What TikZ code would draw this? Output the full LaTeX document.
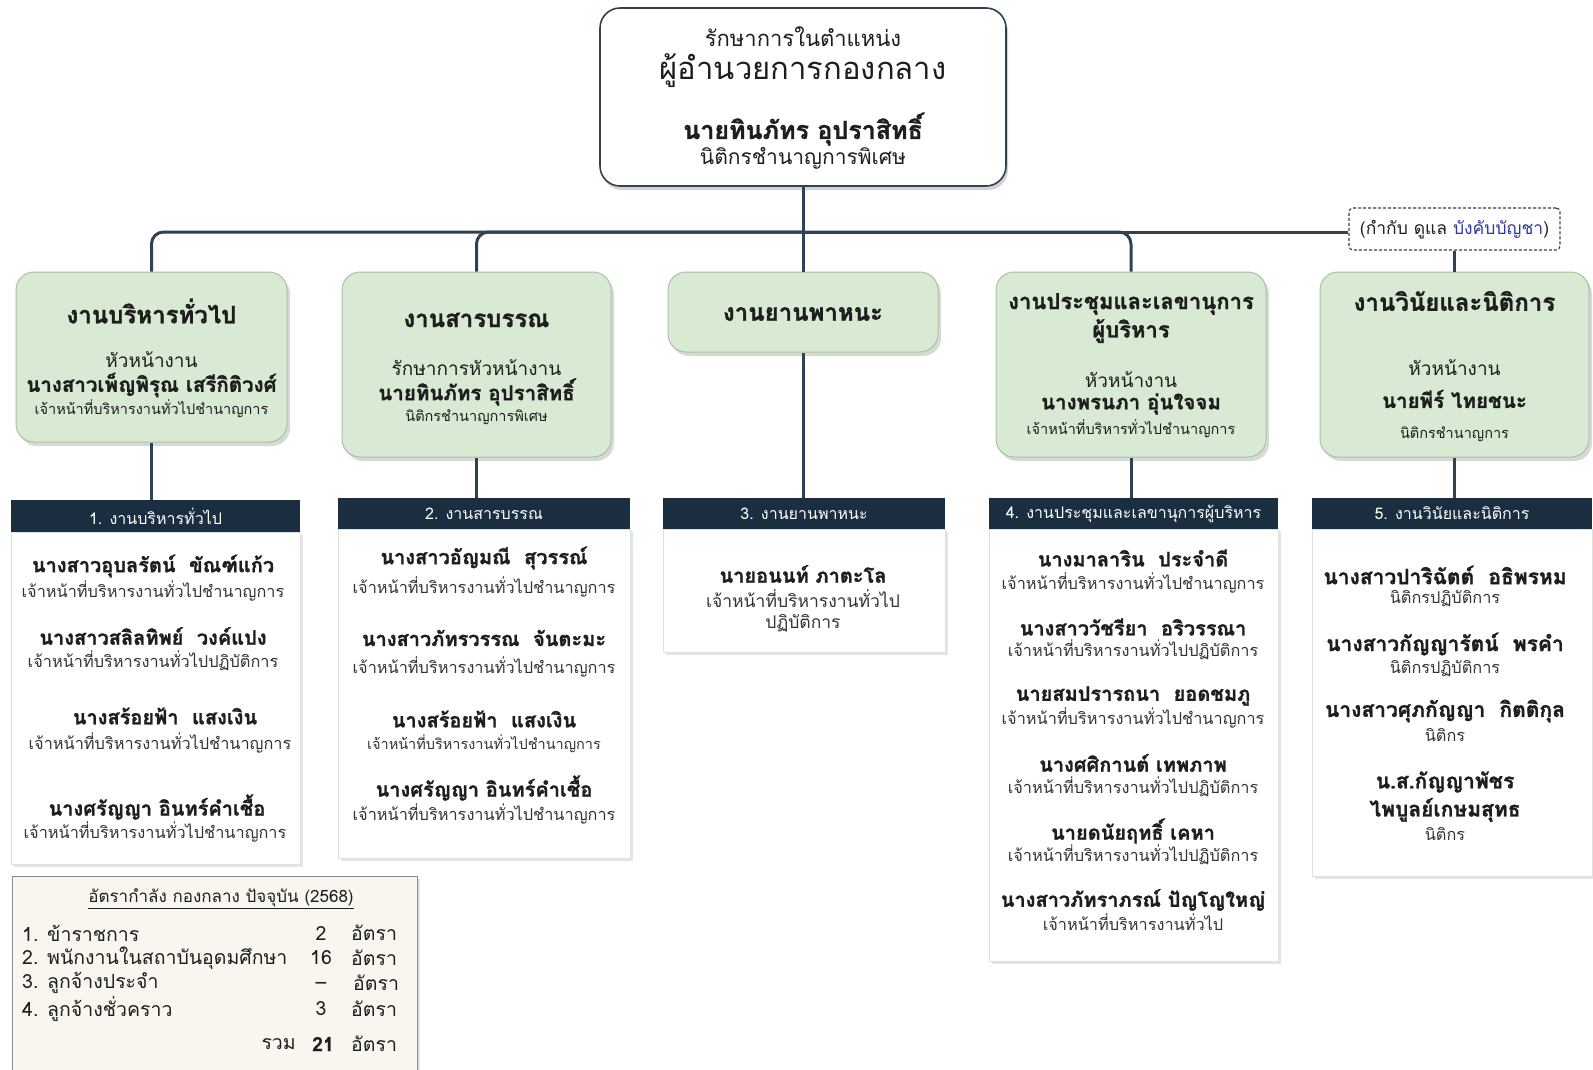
\documentclass[tikz,border=0pt]{standalone}
\usepackage{fontspec}
\setmainfont[Script=Thai, BoldFeatures={FakeBold=1.2}]{Loma}
\usetikzlibrary{shadows}
\definecolor{connc}{HTML}{2E4254}
\definecolor{gfill}{HTML}{D8EAD3}
\definecolor{gdraw}{HTML}{A9C2A4}
\definecolor{hdrc}{HTML}{1B2E40}
\definecolor{tablef}{HTML}{F8F6EE}
\definecolor{blu}{HTML}{2B3A9C}
\definecolor{txt}{HTML}{1E1E1E}
\definecolor{txtg}{HTML}{333333}
\newcommand\fz[1]{\fontsize{#1}{#1}\selectfont}
\newcommand\tline[4]{\node[#1] (#2) at (#3) {#4};}
\tikzset{
  x=1pt, y=-1pt,
  conn/.style={draw=connc, line width=3pt},
  topbox/.style={draw=connc, line width=1.6pt, fill=white, rounded corners=20pt,
     drop shadow={opacity=0.35, shadow xshift=2pt, shadow yshift=-4pt}},
  gbox/.style={draw=gdraw, line width=1pt, fill=gfill, rounded corners=18pt,
     drop shadow={opacity=0.3, shadow xshift=3pt, shadow yshift=-4pt}},
  hdr/.style={fill=hdrc, draw=none, inner sep=0pt},
  body/.style={fill=white, draw=black!12, line width=0.6pt,
     drop shadow={opacity=0.2, shadow xshift=3pt, shadow yshift=-3pt}},
  lbl/.style={draw=black!75, dash pattern=on 3pt off 2pt, line width=1.2pt, fill=white, rounded corners=4pt},
  tbox/.style={fill=tablef, draw=black!45, line width=1pt,
     drop shadow={opacity=0.25, shadow xshift=3pt, shadow yshift=-3pt}},
  tx/.style={inner sep=0pt, text=txt},
  top1/.style={tx, font=\fz{22}},
  top2/.style={tx, font=\fz{31}},
  top3/.style={tx, font=\fz{25}\bfseries},
  top4/.style={tx, font=\fz{21}},
  gtitle/.style={tx, font=\fz{24}\bfseries},
  ghead/.style={tx, font=\fz{19}},
  gname/.style={tx, font=\fz{20.5}\bfseries},
  gpos/.style={tx, font=\fz{14.5}},
  hdrt/.style={inner sep=0pt, text=white, font=\fz{16}},
  lname/.style={tx, font=\fz{20}\bfseries},
  lpos/.style={tx, text=txtg, font=\fz{16.3}},
  tab/.style={tx, font=\fz{19.5}},
}
\begin{document}
\begin{tikzpicture}
\useasboundingbox[fill=white] (0,0) rectangle (1593,1069);

% ---------- boxes ----------
\node[topbox, minimum width=406pt, minimum height=178pt] (top) at (803,97) {};
\node[gbox, minimum width=271pt, minimum height=170pt] (g1) at (151.5,357) {};
\node[gbox, minimum width=269pt, minimum height=185pt] (g2) at (476.5,364.5) {};
\node[gbox, minimum width=270pt, minimum height=80pt] (g3) at (803,312) {};
\node[gbox, minimum width=270pt, minimum height=185pt] (g4) at (1131,364.5) {};
\node[gbox, minimum width=269pt, minimum height=185pt] (g5) at (1454.5,364.5) {};
\node[lbl, minimum width=211pt, minimum height=42pt] (lb) at (1454.5,229) {};
\coordinate (bus) at (803,232);

% list bodies and headers
\node[body, minimum width=289pt, minimum height=332pt] (b1) at (155.5,698) {};
\node[hdr, minimum width=289pt, minimum height=32pt] (h1) at (155.5,516) {};
\node[body, minimum width=292pt, minimum height=329pt] (b2) at (484,693.5) {};
\node[hdr, minimum width=292pt, minimum height=31pt] (h2) at (484,513.5) {};
\node[body, minimum width=282pt, minimum height=123pt] (b3) at (804,590.5) {};
\node[hdr, minimum width=282pt, minimum height=31pt] (h3) at (804,513.5) {};
\node[body, minimum width=289pt, minimum height=432pt] (b4) at (1133.5,745) {};
\node[hdr, minimum width=289pt, minimum height=31pt] (h4) at (1133.5,513.5) {};
\node[body, minimum width=280pt, minimum height=347pt] (b5) at (1452,702.5) {};
\node[hdr, minimum width=280pt, minimum height=31pt] (h5) at (1452,513.5) {};

% table
\node[tbox, minimum width=405pt, minimum height=205pt] (tb) at (214.5,978.5) {};

% ---------- connectors ----------
\draw[conn] (top.south) -- (g3.north);
\draw[conn, rounded corners=12pt] (g1.north) |- (bus);
\draw[conn, rounded corners=12pt] (g2.north) |- (bus);
\draw[conn, rounded corners=12pt] (g4.north) |- (bus);
\draw[conn] (bus) -- (bus -| lb.west);
\draw[conn] (lb.south) -- (g5.north);
\draw[conn] (g1.south) -- (g1.south |- h1.north);
\draw[conn] (g2.south) -- (g2.south |- h2.north);
\draw[conn] (g3.south) -- (g3.south |- h3.north);
\draw[conn] (g4.south) -- (g4.south |- h4.north);
\draw[conn] (g5.south) -- (g5.south |- h5.north);

% ---------- top box text ----------
\tline{top1}{ta}{803,37}{รักษาการในตำแหน่ง}
\tline{top2}{tb2}{803,71}{ผู้อำนวยการกองกลาง}
\tline{top3}{tc}{803,129}{นายทินภัทร อุปราสิทธิ์}
\tline{top4}{td}{803,158}{นิติกรชำนาญการพิเศษ}

% ---------- green box text ----------
\tline{gtitle}{g1a}{151.5,311}{งานบริหารทั่วไป}
\tline{ghead}{g1b}{151.5,360}{หัวหน้างาน}
\tline{gname}{g1c}{151.5,385}{นางสาวเพ็ญพิรุณ เสรีกิติวงศ์}
\tline{gpos}{g1d}{151.5,409}{เจ้าหน้าที่บริหารงานทั่วไปชำนาญการ}

\tline{gtitle}{g2a}{476.5,320}{งานสารบรรณ}
\tline{ghead}{g2b}{476.5,368}{รักษาการหัวหน้างาน}
\tline{gname}{g2c}{476.5,392}{นายทินภัทร อุปราสิทธิ์}
\tline{gpos}{g2d}{476.5,417}{นิติกรชำนาญการพิเศษ}

\tline{gtitle}{g3a}{803,314}{งานยานพาหนะ}

\tline{gtitle, font=\fz{22}\bfseries}{g4a}{1131,304}{งานประชุมและเลขานุการ}
\tline{gtitle, font=\fz{22}\bfseries}{g4b}{1131,331}{ผู้บริหาร}
\tline{ghead}{g4c}{1131,380}{หัวหน้างาน}
\tline{gname}{g4d}{1131,404}{นางพรนภา อุ่นใจจม}
\tline{gpos}{g4e}{1131,429}{เจ้าหน้าที่บริหารทั่วไปชำนาญการ}

\tline{gtitle}{g5a}{1454.5,301}{งานวินัยและนิติการ}
\tline{ghead}{g5b}{1454.5,368}{หัวหน้างาน}
\tline{gname}{g5c}{1454.5,399}{นายพีร์ ไทยชนะ}
\tline{gpos}{g5d}{1454.5,434}{นิติกรชำนาญการ}

\tline{tx, font=\fz{17.5}}{lbt}{1454.5,230}{(กำกับ ดูแล \textcolor{blu}{บังคับบัญชา})}

% ---------- headers ----------
\tline{hdrt}{h1t}{155.5,516}{1. งานบริหารทั่วไป}
\tline{hdrt}{h2t}{484,513.5}{2. งานสารบรรณ}
\tline{hdrt}{h3t}{804,513.5}{3. งานยานพาหนะ}
\tline{hdrt}{h4t}{1133.5,513.5}{4. งานประชุมและเลขานุการผู้บริหาร}
\tline{hdrt}{h5t}{1452,513.5}{5. งานวินัยและนิติการ}

% ---------- list 1 ----------
\tline{lname}{l1a}{153,566}{นางสาวอุบลรัตน์\ \ ขัณฑ์แก้ว}
\tline{lpos}{l1b}{153,591}{เจ้าหน้าที่บริหารงานทั่วไปชำนาญการ}
\tline{lname}{l1c}{153,636}{นางสาวสลิลทิพย์\ \ วงค์แปง}
\tline{lpos}{l1d}{153,661}{เจ้าหน้าที่บริหารงานทั่วไปปฏิบัติการ}
\tline{lname}{l1e}{165,716}{นางสร้อยฟ้า\ \ แสงเงิน}
\tline{lpos}{l1f}{160,743}{เจ้าหน้าที่บริหารงานทั่วไปชำนาญการ}
\tline{lname}{l1g}{157,807}{นางศรัญญา อินทร์คำเชื้อ}
\tline{lpos}{l1h}{155,832}{เจ้าหน้าที่บริหารงานทั่วไปชำนาญการ}

% ---------- list 2 ----------
\tline{lname}{l2a}{484,558}{นางสาวอัญมณี\ \ สุวรรณ์}
\tline{lpos}{l2b}{484,587}{เจ้าหน้าที่บริหารงานทั่วไปชำนาญการ}
\tline{lname}{l2c}{484,638}{นางสาวภัทรวรรณ\ \ จันตะมะ}
\tline{lpos}{l2d}{484,667}{เจ้าหน้าที่บริหารงานทั่วไปชำนาญการ}
\tline{lname}{l2e}{484,719}{นางสร้อยฟ้า\ \ แสงเงิน}
\tline{lpos, font=\fz{14.5}}{l2f}{484,744}{เจ้าหน้าที่บริหารงานทั่วไปชำนาญการ}
\tline{lname}{l2g}{484,788}{นางศรัญญา อินทร์คำเชื้อ}
\tline{lpos}{l2h}{484,814}{เจ้าหน้าที่บริหารงานทั่วไปชำนาญการ}

% ---------- list 3 ----------
\tline{lname}{l3a}{803,574}{นายอนนท์ ภาตะโล}
\tline{lpos, font=\fz{17.5}}{l3b}{803,599}{เจ้าหน้าที่บริหารงานทั่วไป}
\tline{lpos, font=\fz{17.5}}{l3c}{803,623}{ปฏิบัติการ}

% ---------- list 4 ----------
\tline{lname}{l4a}{1133,558}{นางมาลาริน\ \ ประจำดี}
\tline{lpos}{l4b}{1133,583}{เจ้าหน้าที่บริหารงานทั่วไปชำนาญการ}
\tline{lname}{l4c}{1133,627}{นางสาววัชรียา\ \ อริวรรณา}
\tline{lpos}{l4d}{1133,650}{เจ้าหน้าที่บริหารงานทั่วไปปฏิบัติการ}
\tline{lname}{l4e}{1133,696}{นายสมปรารถนา\ \ ยอดชมภู}
\tline{lpos}{l4f}{1133,718}{เจ้าหน้าที่บริหารงานทั่วไปชำนาญการ}
\tline{lname}{l4g}{1133,763}{นางศศิกานต์ เทพภาพ}
\tline{lpos}{l4h}{1133,787}{เจ้าหน้าที่บริหารงานทั่วไปปฏิบัติการ}
\tline{lname}{l4i}{1133,831}{นายดนัยฤทธิ์ เคหา}
\tline{lpos}{l4j}{1133,855}{เจ้าหน้าที่บริหารงานทั่วไปปฏิบัติการ}
\tline{lname}{l4k}{1133,900}{นางสาวภัทราภรณ์ ปัญโญใหญ่}
\tline{lpos}{l4l}{1133,922}{เจ้าหน้าที่บริหารงานทั่วไป}

% ---------- list 5 ----------
\tline{lname, font=\fz{21}\bfseries}{l5a}{1445,575}{นางสาวปาริฉัตต์\ \ อธิพรหม}
\tline{lpos}{l5b}{1445,599}{นิติกรปฏิบัติการ}
\tline{lname, font=\fz{21}\bfseries}{l5c}{1445,644}{นางสาวกัญญารัตน์\ \ พรคำ}
\tline{lpos}{l5d}{1445,669}{นิติกรปฏิบัติการ}
\tline{lname, font=\fz{21}\bfseries}{l5e}{1445,711}{นางสาวศุภกัญญา\ \ กิตติกุล}
\tline{lpos}{l5f}{1445,735}{นิติกร}
\tline{lname, font=\fz{21}\bfseries}{l5g}{1445,782}{น.ส.กัญญาพัชร}
\tline{lname, font=\fz{21}\bfseries}{l5h}{1445,810}{ไพบูลย์เกษมสุทธ}
\tline{lpos}{l5i}{1445,834}{นิติกร}

% ---------- table ----------
\tline{tab, font=\fz{17}}{tt}{221,899}{\underline{อัตรากำลัง กองกลาง ปัจจุบัน (2568)}}
\tline{tab, anchor=west}{r1}{22,933}{1. ข้าราชการ}
\tline{tab, anchor=west}{r2}{22,958}{2. พนักงานในสถาบันอุดมศึกษา}
\tline{tab, anchor=west}{r3}{22,983}{3. ลูกจ้างประจำ}
\tline{tab, anchor=west}{r4}{22,1009}{4. ลูกจ้างชั่วคราว}
\tline{tab}{n1}{321,933}{2}
\tline{tab}{n2}{321,958}{16}
\tline{tab}{n3}{321,986}{–}
\tline{tab}{n4}{321,1009}{3}
\tline{tab, anchor=west}{u1}{351,933}{อัตรา}
\tline{tab, anchor=west}{u2}{351,958}{อัตรา}
\tline{tab, anchor=west}{u3}{353,983}{อัตรา}
\tline{tab, anchor=west}{u4}{351,1009}{อัตรา}
\tline{tab, anchor=east}{sm}{296,1044}{รวม}
\tline{tab, font=\fz{19.5}\bfseries}{n5}{323,1044}{21}
\tline{tab, anchor=west}{u5}{351,1044}{อัตรา}
\end{tikzpicture}
\end{document}
